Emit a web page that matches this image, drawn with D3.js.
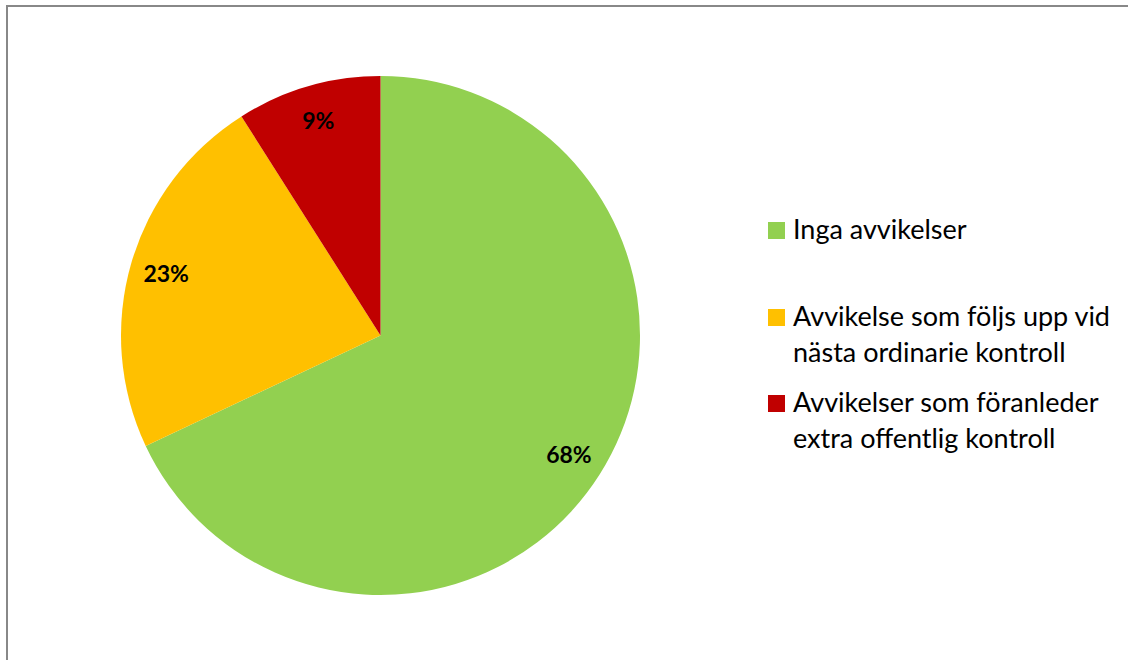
<!DOCTYPE html>
<html>
<head>
<meta charset="utf-8">
<script src="https://cdn.jsdelivr.net/npm/d3@7"></script>
<style>
  html, body { margin: 0; padding: 0; background: #fff; overflow: hidden; }
  svg { display: block; }
</style>
</head>
<body>
<svg id="chart" width="1128" height="660"></svg>
<script>
// Share of inspections by outcome
const categories = [
  "Inga avvikelser",
  "Avvikelse som följs upp vid nästa ordinarie kontroll",
  "Avvikelser som föranleder extra offentlig kontroll"
];
const values = [68, 23, 9];
const legendLines = [
  ["Inga avvikelser"],
  ["Avvikelse som följs upp vid", "nästa ordinarie kontroll"],
  ["Avvikelser som föranleder", "extra offentlig kontroll"]
];
const colors = ["#92D050", "#FFC000", "#C00000"];

const svg = d3.select("#chart");
const W = 1128, H = 660;
const font = "Lato, 'Open Sans', sans-serif";

// Chart area frame: only its top and left edges fall inside the view
svg.append("path")
  .attr("d", `M7,${H} V6 H${W}`)
  .attr("fill", "none")
  .attr("stroke", "#888").attr("stroke-width", 2);

const cx = 380.5, cy = 335.5, R = 259.5;

const color = d3.scaleOrdinal().domain(categories).range(colors);
const data = categories.map((c, i) => ({ cat: c, value: values[i] }));

const pie = d3.pie().value(d => d.value).sort(null);
const arcs = pie(data);
const arc = d3.arc().innerRadius(0).outerRadius(R);
const labelArc = d3.arc().innerRadius(R * 0.86).outerRadius(R * 0.86);

const g = svg.append("g").attr("transform", `translate(${cx},${cy})`);

g.selectAll("path.slice")
  .data(arcs)
  .join("path")
  .attr("class", "slice")
  .attr("d", arc)
  .attr("fill", d => color(d.data.cat));

const total = d3.sum(values);
g.selectAll("text.pct")
  .data(arcs)
  .join("text")
  .attr("class", "pct")
  .attr("transform", d => `translate(${labelArc.centroid(d)})`)
  .attr("text-anchor", "middle")
  .attr("dy", "0.36em")
  .attr("font-family", font)
  .attr("font-weight", "bold")
  .attr("font-size", 23)
  .attr("fill", "#000")
  .text(d => Math.round(d.data.value / total * 100) + "%");

// Legend
const legendX = 768, textX = 793, sq = 17;
const firstBaselines = [239, 326, 412];
const lineGap = 36;

const leg = svg.append("g");
categories.forEach((c, i) => {
  const base = firstBaselines[i];
  leg.append("rect")
    .attr("x", legendX).attr("y", base - 17)
    .attr("width", sq).attr("height", sq)
    .attr("fill", color(c));
  const t = leg.append("text")
    .attr("font-family", font)
    .attr("font-size", 27)
    .attr("fill", "#000");
  legendLines[i].forEach((line, j) => {
    t.append("tspan")
      .attr("x", textX)
      .attr("y", base + j * lineGap)
      .text(line);
  });
});
</script>
</body>
</html>
